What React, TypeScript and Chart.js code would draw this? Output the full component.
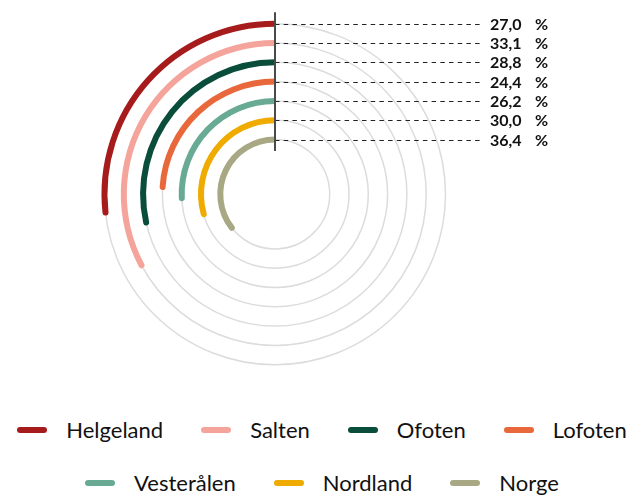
import React, { useEffect, useRef } from 'react';
import { Chart, registerables } from 'chart.js';

Chart.register(...registerables);

const categories = ['Helgeland', 'Salten', 'Ofoten', 'Lofoten', 'Vesterålen', 'Nordland', 'Norge'];
const values = [27.0, 33.1, 28.8, 24.4, 26.2, 30.0, 36.4];
const colors = ['#a61b1b', '#f4a49b', '#0b4d3b', '#e8683b', '#69aa95', '#efab00', '#a8a984'];
const unit = '%';

const FONT = 'Lato, "Open Sans", sans-serif';

export default function App() {
  const ref = useRef<HTMLCanvasElement>(null);

  useEffect(() => {
    const ringW = 6;
    const gapW = 13.3;
    const outerR = 173.5;
    const datasets: any[] = [];
    categories.forEach((c, i) => {
      if (i > 0) {
        datasets.push({
          label: '_gap',
          data: [1],
          backgroundColor: 'rgba(0,0,0,0)',
          borderWidth: 0,
          weight: gapW,
        });
      }
      datasets.push({
        label: c,
        data: [100 - values[i], values[i]],
        backgroundColor: ['rgba(0,0,0,0)', colors[i]],
        borderWidth: 0,
        weight: ringW,
        borderRadius: (ctx: any) =>
          ctx.dataIndex === 1
            ? { outerStart: 3, innerStart: 3, outerEnd: 0, innerEnd: 0 }
            : 0,
      });
    });
    const totalW = categories.length * ringW + (categories.length - 1) * gapW;
    const cutoutPct = ((outerR - totalW) / outerR) * 100 + '%';

    const overlay = {
      id: 'overlay',
      beforeDatasetsDraw(chart: any) {
        const ctx = chart.ctx;
        ctx.save();
        ctx.strokeStyle = '#dcdcdc';
        ctx.lineWidth = 1.5;
        chart.data.datasets.forEach((ds: any, di: number) => {
          if (ds.label === '_gap') return;
          const arc = chart.getDatasetMeta(di).data[1];
          const r = (arc.innerRadius + arc.outerRadius) / 2;
          ctx.beginPath();
          ctx.arc(arc.x, arc.y, r, 0, Math.PI * 2);
          ctx.stroke();
        });
        ctx.restore();
      },
      afterDatasetsDraw(chart: any) {
        const ctx = chart.ctx;
        const rings: any[] = [];
        chart.data.datasets.forEach((ds: any, di: number) => {
          if (ds.label === '_gap') return;
          const arc = chart.getDatasetMeta(di).data[1];
          rings.push({ arc, value: values[rings.length] });
        });
        if (!rings.length) return;
        const cx = rings[0].arc.x;
        const cy = rings[0].arc.y;
        ctx.save();
        // dashed leader lines
        ctx.strokeStyle = '#222';
        ctx.lineWidth = 1;
        ctx.setLineDash([4.5, 4.2]);
        rings.forEach(({ arc }) => {
          const r = (arc.innerRadius + arc.outerRadius) / 2;
          const y = Math.round(cy - r) + 0.5;
          ctx.beginPath();
          ctx.moveTo(cx, y);
          ctx.lineTo(cx + 208, y);
          ctx.stroke();
        });
        ctx.setLineDash([]);
        // axis line
        const first = rings[0].arc;
        const last = rings[rings.length - 1].arc;
        ctx.strokeStyle = '#4a4a4a';
        ctx.lineWidth = 2;
        ctx.beginPath();
        ctx.moveTo(cx, cy - first.outerRadius - 8.5);
        ctx.lineTo(cx, cy - last.innerRadius + 8.5);
        ctx.stroke();
        // labels
        ctx.fillStyle = '#111';
        ctx.font = 'bold 16px ' + FONT;
        ctx.textBaseline = 'middle';
        ctx.textAlign = 'left';
        rings.forEach(({ arc, value }) => {
          const r = (arc.innerRadius + arc.outerRadius) / 2;
          const y = cy - r + 1;
          ctx.fillText(value.toFixed(1).replace('.', ','), cx + 215, y);
          ctx.fillText(unit, cx + 260, y);
        });
        ctx.restore();
      },
    };

    const chart = new Chart(ref.current as HTMLCanvasElement, {
      type: 'doughnut',
      data: { labels: ['rest', 'value'], datasets },
      options: {
        responsive: false,
        animation: false,
        events: [],
        radius: outerR,
        cutout: cutoutPct,
        layout: { padding: { left: 0, right: 80, top: 0, bottom: 11.6 } },
        plugins: {
          legend: { display: false },
          tooltip: { enabled: false },
        },
      } as any,
      plugins: [overlay],
    });
    return () => chart.destroy();
  }, []);

  return (
    <div style={{ position: 'absolute', left: 0, top: 0, width: 630, height: 495, background: '#fff', overflow: 'hidden' }}>
      <canvas ref={ref} width={630} height={400} style={{ display: 'block' }} />
      <div
        style={{
          position: 'absolute',
          left: 14,
          top: 419,
          width: 616,
          display: 'flex',
          flexWrap: 'wrap',
          justifyContent: 'center',
          columnGap: 38,
          rowGap: 31,
          fontFamily: FONT,
          fontSize: 22,
          lineHeight: '22px',
          color: '#111',
        }}
      >
        {categories.map((c, i) => (
          <div key={c} style={{ display: 'flex', alignItems: 'center', height: 22 }}>
            <span
              style={{
                display: 'inline-block',
                width: 30,
                height: 6,
                borderRadius: 3,
                background: colors[i],
                marginRight: 19,
              }}
            />
            <span>{c}</span>
          </div>
        ))}
      </div>
    </div>
  );
}
